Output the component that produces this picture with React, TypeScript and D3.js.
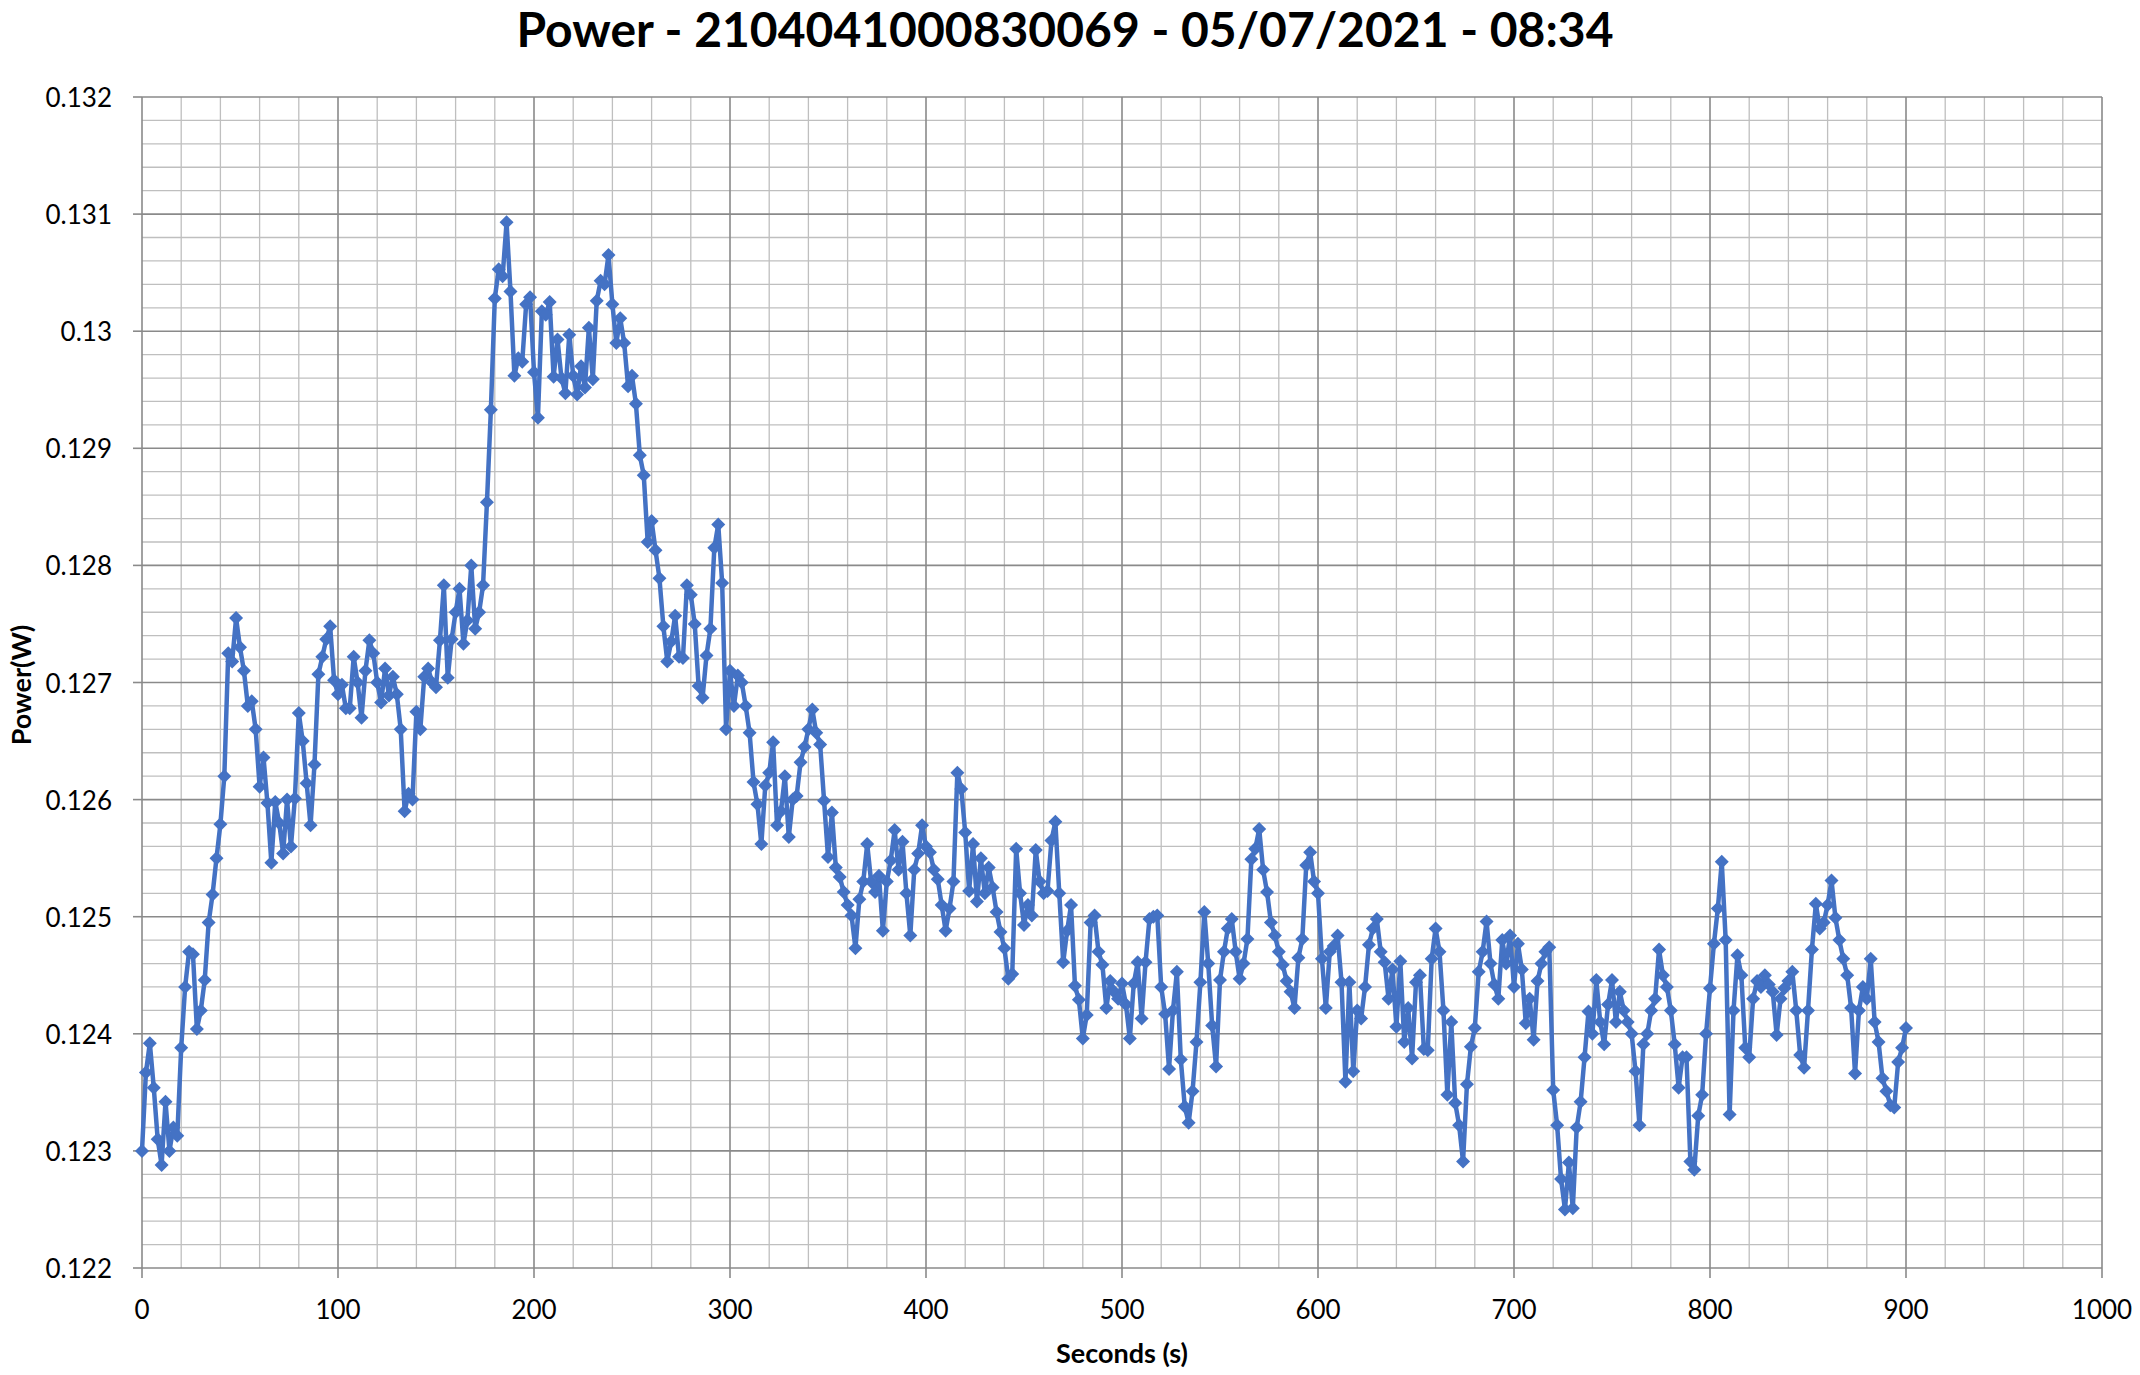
import React from 'react';
import * as d3 from 'd3';

const chartTitle = 'Power - 2104041000830069 - 05/07/2021 - 08:34';
const xAxisTitle = 'Seconds (s)';
const yAxisTitle = 'Power(W)';
const xTickValues = [0, 100, 200, 300, 400, 500, 600, 700, 800, 900, 1000];
const yTickValues = [0.122, 0.123, 0.124, 0.125, 0.126, 0.127, 0.128, 0.129, 0.13, 0.131, 0.132];
const yTickLabels = ['0.122', '0.123', '0.124', '0.125', '0.126', '0.127', '0.128', '0.129', '0.13', '0.131', '0.132'];
const sampleStepSeconds = 2;
const valueScale = 1e-5; // stored values are in units of 0.00001 W

// 0 - 98 s
const power000 = [
  12300, 12367, 12392, 12354, 12310, 12288, 12342, 12300, 12320, 12313,
  12388, 12440, 12470, 12468, 12404, 12420, 12446, 12495, 12519, 12550,
  12579, 12620, 12725, 12718, 12755, 12730, 12710, 12680, 12684, 12660,
  12611, 12636, 12597, 12546, 12598, 12580, 12554, 12600, 12560, 12601,
  12674, 12650, 12614, 12578, 12630, 12707, 12722, 12737, 12748, 12702,
];
// 100 - 198 s
const power100 = [
  12690, 12698, 12678, 12678, 12722, 12700, 12670, 12710, 12736, 12725,
  12700, 12683, 12712, 12689, 12705, 12690, 12660, 12590, 12605, 12600,
  12675, 12660, 12705, 12712, 12700, 12696, 12736, 12783, 12704, 12737,
  12760, 12780, 12733, 12753, 12800, 12746, 12760, 12783, 12854, 12933,
  13028, 13053, 13047, 13093, 13034, 12962, 12977, 12974, 13023, 13029,
];
// 200 - 298 s
const power200 = [
  12965, 12926, 13017, 13014, 13025, 12961, 12993, 12960, 12947, 12997,
  12962, 12946, 12970, 12952, 13003, 12959, 13026, 13043, 13040, 13065,
  13023, 12990, 13011, 12990, 12953, 12962, 12938, 12894, 12877, 12820,
  12838, 12813, 12789, 12748, 12718, 12735, 12757, 12722, 12721, 12783,
  12775, 12750, 12697, 12687, 12723, 12746, 12815, 12835, 12785, 12660,
];
// 300 - 398 s
const power300 = [
  12710, 12680, 12706, 12700, 12680, 12657, 12615, 12596, 12562, 12612,
  12623, 12649, 12578, 12590, 12620, 12568, 12600, 12603, 12632, 12645,
  12660, 12677, 12657, 12647, 12599, 12551, 12589, 12542, 12534, 12521,
  12510, 12501, 12473, 12515, 12530, 12562, 12530, 12521, 12535, 12488,
  12530, 12548, 12574, 12540, 12564, 12520, 12484, 12540, 12554, 12578,
];
// 400 - 498 s
const power400 = [
  12560, 12555, 12540, 12532, 12510, 12488, 12507, 12530, 12623, 12609,
  12572, 12522, 12562, 12513, 12550, 12520, 12542, 12525, 12504, 12487,
  12473, 12447, 12451, 12558, 12520, 12493, 12510, 12501, 12557, 12530,
  12520, 12522, 12565, 12581, 12520, 12461, 12488, 12510, 12441, 12429,
  12396, 12416, 12495, 12501, 12470, 12459, 12422, 12445, 12436, 12430,
];
// 500 - 598 s
const power500 = [
  12443, 12425, 12396, 12443, 12461, 12413, 12461, 12498, 12500, 12501,
  12440, 12417, 12370, 12420, 12453, 12378, 12338, 12324, 12351, 12393,
  12444, 12504, 12460, 12407, 12372, 12446, 12470, 12490, 12498, 12470,
  12447, 12460, 12481, 12549, 12558, 12575, 12540, 12521, 12495, 12484,
  12470, 12459, 12445, 12436, 12422, 12465, 12481, 12544, 12555, 12530,
];
// 600 - 698 s
const power600 = [
  12520, 12464, 12422, 12470, 12475, 12484, 12444, 12359, 12444, 12368,
  12420, 12413, 12440, 12476, 12490, 12498, 12470, 12461, 12430, 12455,
  12406, 12462, 12393, 12422, 12379, 12444, 12450, 12387, 12386, 12464,
  12490, 12470, 12420, 12348, 12410, 12341, 12322, 12291, 12357, 12389,
  12405, 12453, 12470, 12496, 12460, 12442, 12430, 12480, 12460, 12484,
];
// 700 - 798 s
const power700 = [
  12440, 12477, 12455, 12409, 12430, 12395, 12445, 12460, 12470, 12474,
  12352, 12322, 12276, 12250, 12290, 12251, 12320, 12342, 12380, 12419,
  12400, 12446, 12410, 12391, 12425, 12446, 12410, 12436, 12420, 12410,
  12400, 12368, 12322, 12391, 12400, 12420, 12430, 12472, 12450, 12440,
  12420, 12391, 12354, 12380, 12380, 12291, 12284, 12330, 12348, 12400,
];
// 800 - 900 s
const power800 = [
  12439, 12477, 12507, 12547, 12480, 12331, 12420, 12467, 12450, 12388,
  12380, 12430, 12445, 12440, 12450, 12442, 12436, 12399, 12430, 12439,
  12445, 12453, 12420, 12382, 12371, 12420, 12472, 12511, 12490, 12495,
  12510, 12531, 12499, 12480, 12464, 12450, 12422, 12366, 12420, 12440,
  12430, 12464, 12410, 12393, 12362, 12351, 12339, 12337, 12376, 12388,
  12405,
];

const powerSegments = [power000, power100, power200, power300, power400, power500, power600, power700, power800];

const FONT = "Lato, 'Open Sans', 'DejaVu Sans', sans-serif";
const SERIES = '#4472C4';

export default function App() {
  const W = 2140;
  const H = 1375;
  const left = 142;
  const right = 2102;
  const top = 97;
  const bottom = 1268;

  const x = d3.scaleLinear().domain([0, 1000]).range([left, right]);
  const y = d3.scaleLinear().domain([0.122, 0.132]).range([bottom, top]);

  const data = powerSegments.flat().map((v, i) => ({ t: i * sampleStepSeconds, v: v * valueScale }));
  const linePath = d3.line<{ t: number; v: number }>().x((d) => x(d.t)).y((d) => y(d.v))(data) || '';

  const minorX = d3.range(0, 1001, 20).filter((t) => t % 100 !== 0);
  const minorY = d3.range(0, 51).filter((i) => i % 5 !== 0).map((i) => 0.122 + i * 0.0002);

  const r = 7;
  const diamond = `M0,${-r}L${r},0L0,${r}L${-r},0Z`;

  return (
    <div style={{ position: 'fixed', left: 0, top: 0, width: W, height: H, background: '#fff' }}>
      <svg width={W} height={H} viewBox={`0 0 ${W} ${H}`} style={{ display: 'block' }}>
        <rect x={0} y={0} width={W} height={H} fill="#fff" />
        {/* minor grid */}
        <g stroke="#bfbfbf" strokeWidth={1.3}>
          {minorX.map((t) => (
            <line key={'mx' + t} x1={x(t)} x2={x(t)} y1={top} y2={bottom} />
          ))}
          {minorY.map((v, i) => (
            <line key={'my' + i} x1={left} x2={right} y1={y(v)} y2={y(v)} />
          ))}
        </g>
        {/* major grid */}
        <g stroke="#8a8a8a" strokeWidth={1.6}>
          {xTickValues.map((t) => (
            <line key={'Mx' + t} x1={x(t)} x2={x(t)} y1={top} y2={bottom} />
          ))}
          {yTickValues.map((v) => (
            <line key={'My' + v} x1={left} x2={right} y1={y(v)} y2={y(v)} />
          ))}
        </g>
        {/* tick marks */}
        <g stroke="#8a8a8a" strokeWidth={1.6}>
          {yTickValues.map((v) => (
            <line key={'ty' + v} x1={left - 9} x2={left} y1={y(v)} y2={y(v)} />
          ))}
          {xTickValues.map((t) => (
            <line key={'tx' + t} x1={x(t)} x2={x(t)} y1={bottom} y2={bottom + 10} />
          ))}
        </g>
        {/* tick labels */}
        <g fontFamily={FONT} fontSize={26} fill="#000">
          {yTickValues.map((v, i) => (
            <text key={'ly' + v} x={112} y={y(v) + 10} textAnchor="end">
              {yTickLabels[i]}
            </text>
          ))}
          {xTickValues.map((t) => (
            <text key={'lx' + t} x={x(t)} y={1319} textAnchor="middle">
              {String(t)}
            </text>
          ))}
        </g>
        {/* series */}
        <path d={linePath} fill="none" stroke={SERIES} strokeWidth={4.5} strokeLinejoin="round" />
        <g fill={SERIES}>
          {data.map((d, i) => (
            <path key={'m' + i} d={diamond} transform={`translate(${x(d.t)},${y(d.v)})`} />
          ))}
        </g>
        {/* titles */}
        <text
          x={1065}
          y={47}
          textAnchor="middle"
          fontFamily={FONT}
          fontWeight="bold"
          fontSize={48}
          textLength={1097}
          lengthAdjust="spacingAndGlyphs"
        >
          {chartTitle}
        </text>
        <text x={1122} y={1363} textAnchor="middle" fontFamily={FONT} fontWeight="bold" fontSize={27}>
          {xAxisTitle}
        </text>
        <text
          transform="translate(31,685) rotate(-90)"
          textAnchor="middle"
          fontFamily={FONT}
          fontWeight="bold"
          fontSize={27}
        >
          {yAxisTitle}
        </text>
      </svg>
    </div>
  );
}
